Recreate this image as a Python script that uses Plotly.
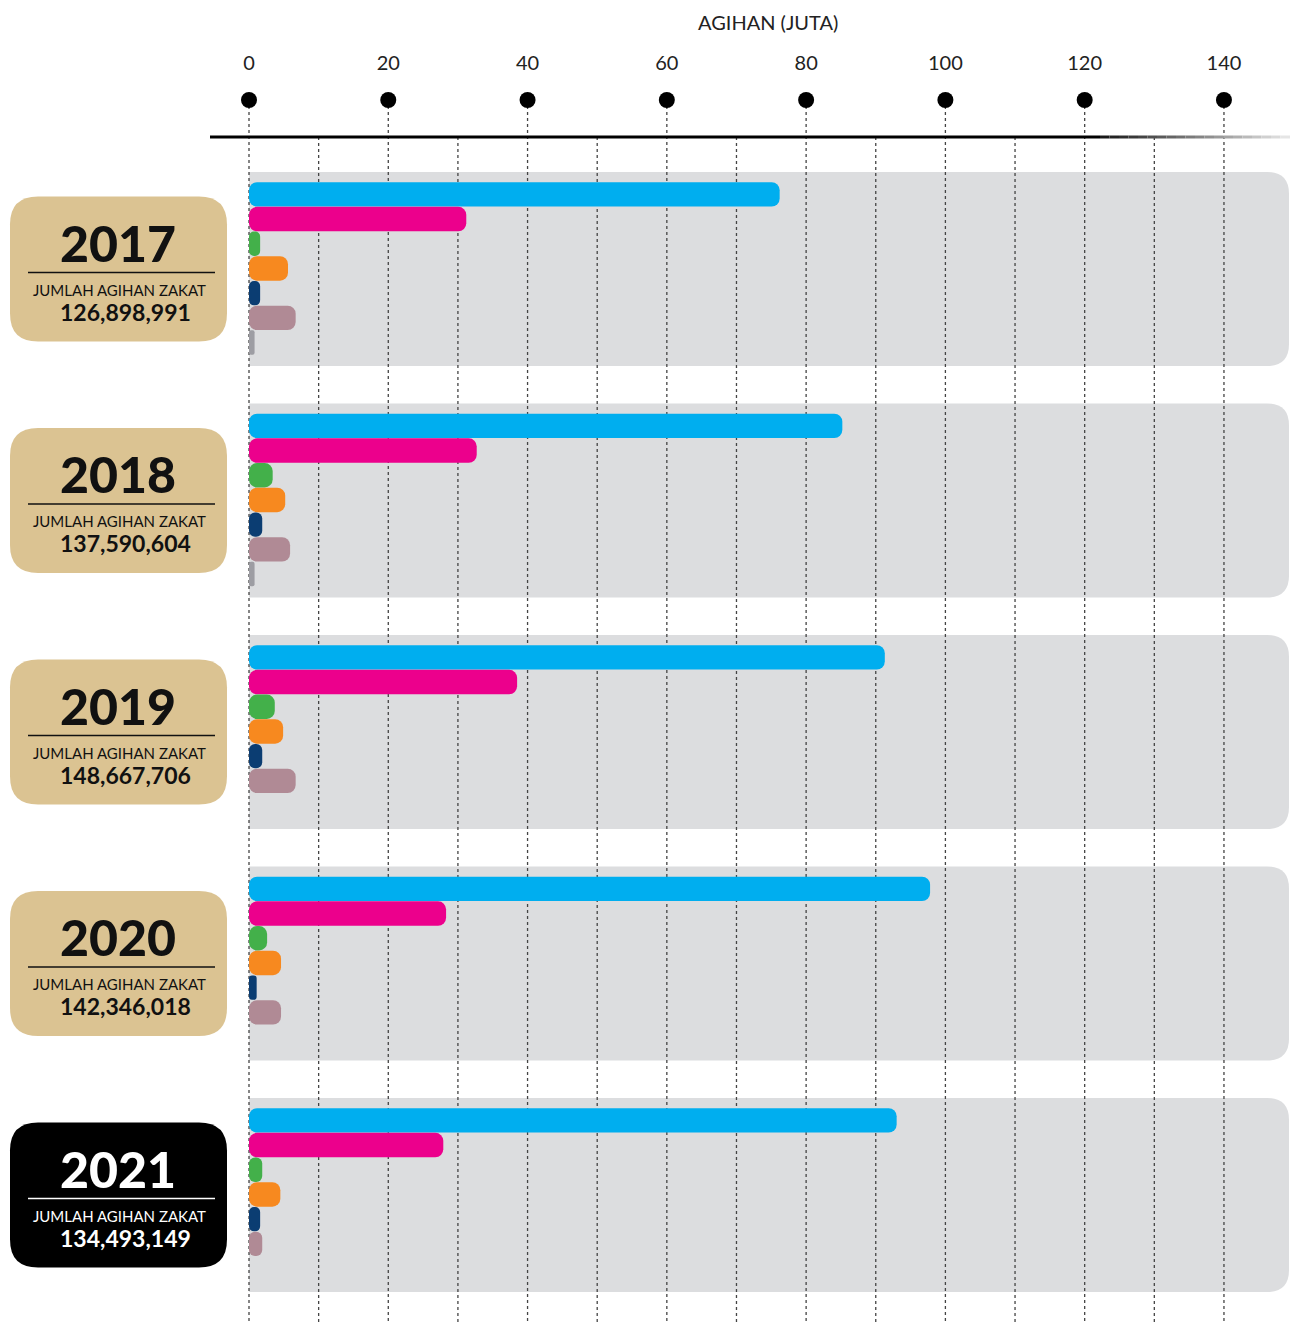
import plotly.graph_objects as go

# ---------------- data ----------------
years = ["2017", "2018", "2019", "2020", "2021"]
totals = ["126,898,991", "137,590,604", "148,667,706", "142,346,018", "134,493,149"]
s_cyan = [76.2, 85.2, 91.3, 97.8, 93.0]
s_magenta = [31.2, 32.7, 38.5, 28.3, 27.9]
s_green = [1.6, 3.4, 3.7, 2.6, 1.9]
s_orange = [5.6, 5.2, 4.9, 4.6, 4.5]
s_navy = [1.6, 1.9, 1.9, 1.1, 1.6]
s_mauve = [6.7, 5.9, 6.7, 4.6, 1.9]
s_gray = [0.8, 0.8, 0, 0, 0]
tick_vals = [0, 20, 40, 60, 80, 100, 120, 140]
grid_vals = list(range(0, 141, 10))

series = [s_cyan, s_magenta, s_green, s_orange, s_navy, s_mauve, s_gray]
colors = ["#00AEEF", "#EC008C", "#43B04A", "#F7891F", "#0B3D72", "#B08A95", "#9D9DA3"]

# ---------------- layout constants (page pixels) ----------------
PAGE_W, PAGE_H = 1298, 1322
OFF = 8  # default page body margin
W, H = PAGE_W - 2 * OFF, PAGE_H - OFF
X_RIGHT = OFF + W
Y_BOTTOM = OFF + H
X0_PX = 249.0
K = 6.964  # px per unit
GROUP_TOP0 = 182.0
GROUP_STEP = 231.5
BAR_PITCH = 24.7
AXIS_Y = 137
DOT_Y = 100


def px2paper(x):
    return (x - OFF) / W


def group_top(g):
    return GROUP_TOP0 + g * GROUP_STEP


def rr_path(x0, y0, x1, y1, r, left_round=True):
    rx = r / W
    X0, X1 = px2paper(x0), px2paper(x1)
    if left_round:
        p = f"M {X0+rx},{y0} L {X1-rx},{y0} Q {X1},{y0} {X1},{y0+r} L {X1},{y1-r} Q {X1},{y1} {X1-rx},{y1} " \
            f"L {X0+rx},{y1} Q {X0},{y1} {X0},{y1-r} L {X0},{y0+r} Q {X0},{y0} {X0+rx},{y0} Z"
    else:
        p = f"M {X0},{y0} L {X1-rx},{y0} Q {X1},{y0} {X1},{y0+r} L {X1},{y1-r} Q {X1},{y1} {X1-rx},{y1} " \
            f"L {X0},{y1} Z"
    return p


fig = go.Figure()

# bars
for i, (vals, col) in enumerate(zip(series, colors)):
    ys = [group_top(g) + BAR_PITCH * (i + 0.5) for g in range(len(years))]
    fig.add_trace(go.Bar(
        x=vals, y=ys, orientation="h", marker=dict(color=col, line=dict(width=0)),
        width=BAR_PITCH - 0.3, base=0, showlegend=False, hoverinfo="x",
    ))

# axis dots
fig.add_trace(go.Scatter(
    x=tick_vals, y=[DOT_Y] * len(tick_vals), mode="markers",
    marker=dict(color="black", size=16), showlegend=False, hoverinfo="skip",
))

shapes = []
annotations = []

# grey panels
for g in range(len(years)):
    t = group_top(g) - 10
    shapes.append(dict(type="path", path=rr_path(X0_PX, t, X_RIGHT - 1, t + 194, 22, left_round=False),
                       xref="paper", yref="y", fillcolor="#DCDDDF", line=dict(width=0), layer="below"))

# dotted grid lines
for v in grid_vals:
    y_start = DOT_Y + 6 if v % 20 == 0 else AXIS_Y
    shapes.append(dict(type="line", xref="x", yref="y", x0=v, x1=v, y0=y_start, y1=PAGE_H,
                       line=dict(color="#444444", width=1.3, dash="dot"), layer="below"))

# axis line with fade to the right
shapes.append(dict(type="line", xref="paper", yref="y", x0=px2paper(210), x1=px2paper(1100),
                   y0=AXIS_Y, y1=AXIS_Y, line=dict(color="black", width=3), layer="above"))
nseg = 20
for s in range(nseg):
    xa = 1100 + (X_RIGHT - 1100) * s / nseg
    xb = 1100 + (X_RIGHT - 1100) * (s + 1) / nseg
    c = int(20 + (235 - 20) * (s + 0.5) / nseg)
    shapes.append(dict(type="line", xref="paper", yref="y", x0=px2paper(xa), x1=px2paper(xb),
                       y0=AXIS_Y, y1=AXIS_Y, line=dict(color=f"rgb({c},{c},{c})", width=3), layer="above"))

# left label boxes
for g, (yr, tot) in enumerate(zip(years, totals)):
    ptop = group_top(g) - 10
    bt = ptop + 97 - 72.5
    bb = bt + 145
    dark = (g == len(years) - 1)
    fill = "#000000" if dark else "#DBC392"
    txt = "#FFFFFF" if dark else "#111111"
    shapes.append(dict(type="path", path=rr_path(10, bt, 227, bb, 28), xref="paper", yref="y",
                       fillcolor=fill, line=dict(width=0), layer="above"))
    shapes.append(dict(type="line", xref="paper", yref="y", x0=px2paper(28), x1=px2paper(215),
                       y0=bt + 76, y1=bt + 76, line=dict(color=txt, width=1.3), layer="above"))
    annotations.append(dict(x=px2paper(118), y=bt + 46, xref="paper", yref="y", text=yr, showarrow=False,
                            font=dict(family="Lato", size=50, color=txt, weight=900),
                            xanchor="center", yanchor="middle"))
    annotations.append(dict(x=px2paper(119), y=bt + 93, xref="paper", yref="y", text="JUMLAH AGIHAN ZAKAT",
                            showarrow=False, font=dict(family="Lato", size=15, color=txt),
                            xanchor="center", yanchor="middle"))
    annotations.append(dict(x=px2paper(125), y=bt + 115, xref="paper", yref="y", text=tot, showarrow=False,
                            font=dict(family="Lato", size=23, color=txt, weight=700),
                            xanchor="center", yanchor="middle"))

annotations.append(dict(x=px2paper(768), y=22, xref="paper", yref="y", text="AGIHAN (JUTA)", showarrow=False,
                        font=dict(family="Lato", size=20, color="#222222"), xanchor="center", yanchor="middle"))

fig.update_layout(
    width=W, height=H, margin=dict(l=0, r=0, t=0, b=0),
    paper_bgcolor="white", plot_bgcolor="white",
    barmode="overlay", barcornerradius=8, showlegend=False,
    shapes=shapes, annotations=annotations,
    xaxis=dict(range=[-(X0_PX - OFF) / K, (X_RIGHT - X0_PX) / K], domain=[0, 1], side="top", anchor="free",
               position=1 - 66 / H, tickvals=tick_vals, ticktext=[str(v) for v in tick_vals],
               ticks="", showgrid=False, zeroline=False, showline=False,
               tickfont=dict(family="Lato", size=20, color="#222222"), fixedrange=True),
    yaxis=dict(range=[Y_BOTTOM, OFF], domain=[0, 1], visible=False, showgrid=False, zeroline=False,
               fixedrange=True),
)

fig.write_html("out.html")
